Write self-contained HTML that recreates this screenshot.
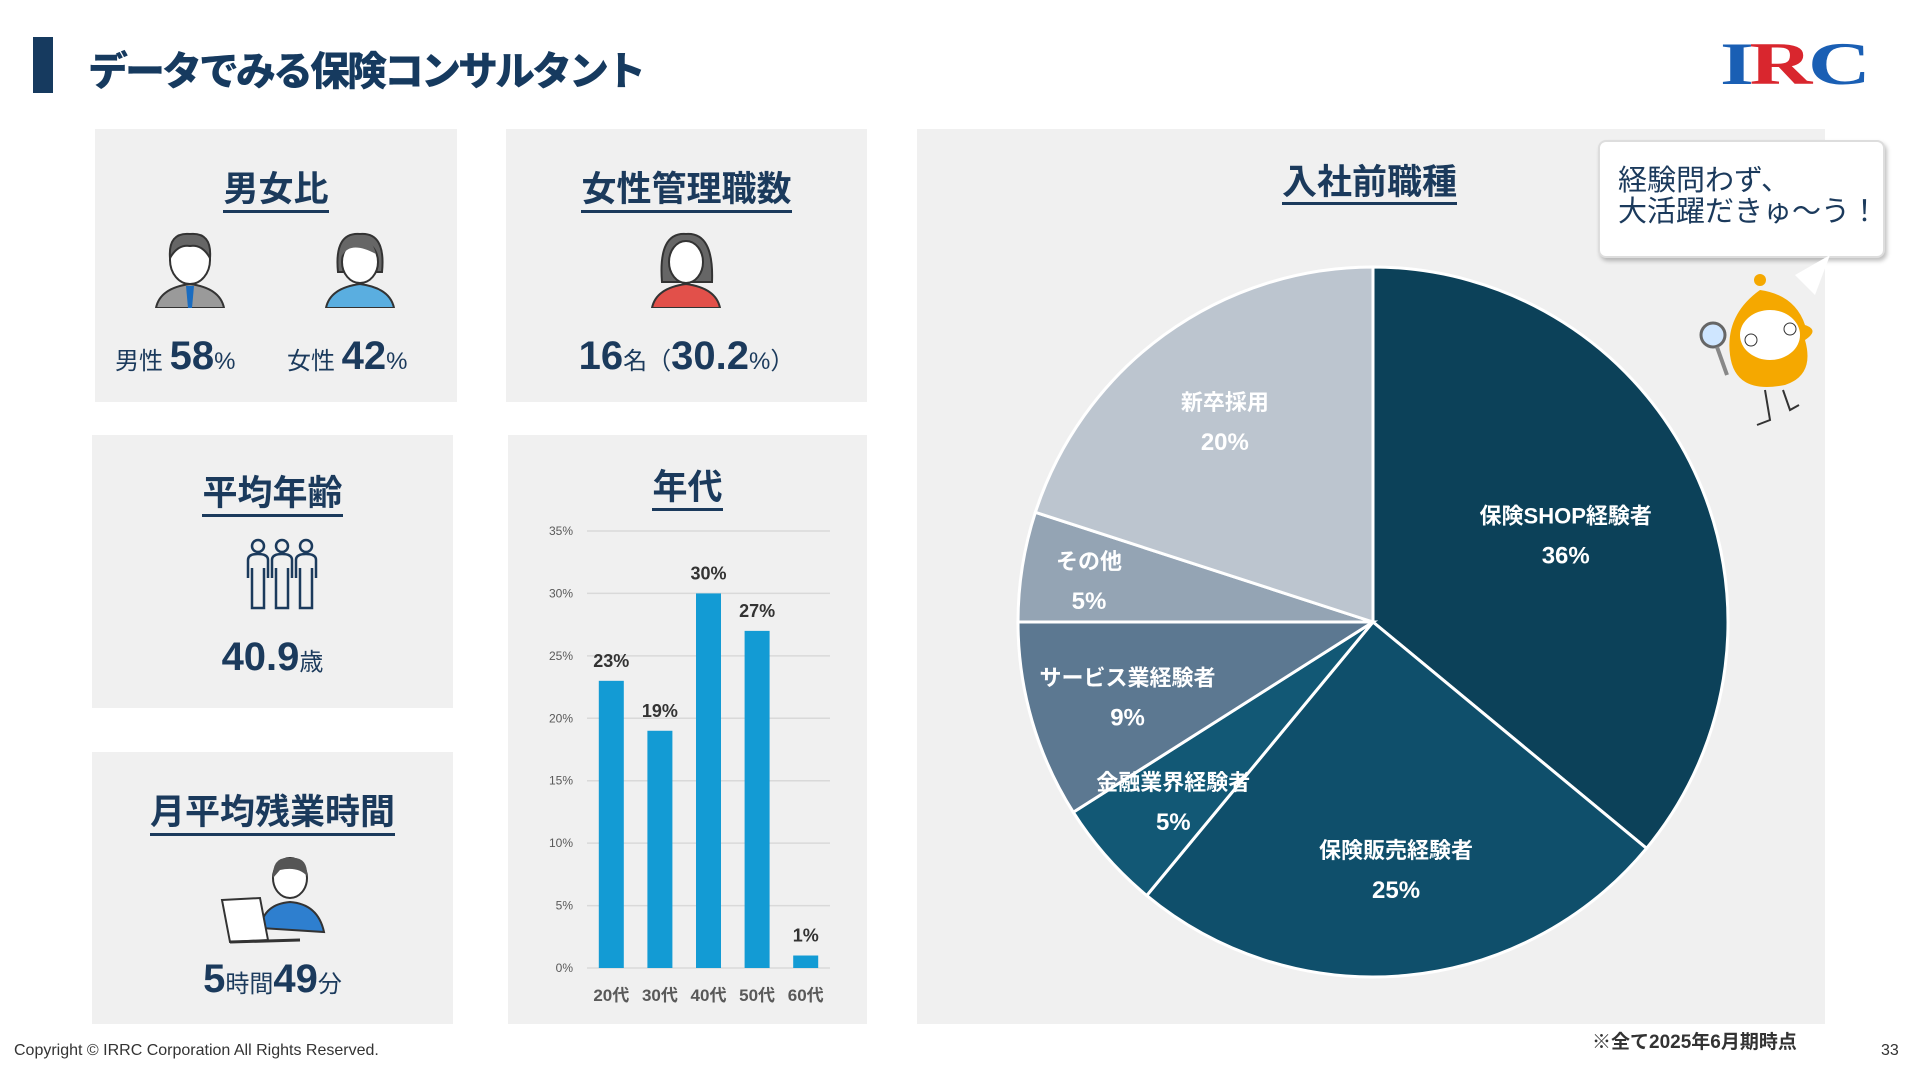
<!DOCTYPE html>
<html><head><meta charset="utf-8">
<style>
*{margin:0;padding:0;box-sizing:border-box}
body{width:1920px;height:1080px;background:#fff;position:relative;overflow:hidden;font-family:"Liberation Sans","Noto Sans CJK JP",sans-serif;color:#1b3a5c}
.abs{position:absolute}
.panel{position:absolute;background:#f0f0f0}
.ptitle{position:absolute;left:0;right:0;text-align:center;font-weight:bold;font-size:35px;color:#1b3a5c}
.ptitle span{border-bottom:3px solid #1b3a5c;padding-bottom:1px}
.big{font-weight:900;font-size:40px;color:#1b3a5c}
.sm{font-size:24px;color:#1b3a5c}
</style></head><body>
<div class="abs" style="left:33px;top:37px;width:20px;height:56px;background:#163a5f"></div>
<div class="abs" style="left:88px;top:39px;font-size:40px;font-weight:900;color:#163a5f;letter-spacing:-3px">データでみる保険コンサルタント</div>
<div class="abs" style="left:1720px;top:30px;font-family:'Liberation Serif',serif;font-weight:bold;font-size:60px;color:#1a5fb4;letter-spacing:-3px;transform:scaleX(1.45);transform-origin:left top">I<span style="color:#d9262e">R</span>C</div>

<div class="panel" style="left:95px;top:129px;width:362px;height:273px">
 <div class="ptitle" style="top:32px"><span>男女比</span></div>
 <svg class="abs" style="left:55px;top:93px" width="80" height="86" viewBox="0 0 80 86"><path d="M6 86 Q10 66 40 62 Q70 66 74 86Z" fill="#9a9a9a" stroke="#333" stroke-width="2"/><path d="M36 64 L44 64 L42 86 L38 86Z" fill="#1a6cc0"/><ellipse cx="40" cy="38" rx="20" ry="24" fill="#fff" stroke="#333" stroke-width="2"/><path d="M20 36 Q18 10 40 12 Q62 10 60 36 Q52 22 40 24 Q28 22 20 36Z" fill="#666" stroke="#333" stroke-width="2"/></svg>
 <svg class="abs" style="left:225px;top:93px" width="80" height="86" viewBox="0 0 80 86"><path d="M6 86 Q10 66 40 62 Q70 66 74 86Z" fill="#5aaee0" stroke="#333" stroke-width="2"/><path d="M18 50 Q14 10 40 12 Q66 10 62 50Z" fill="#666" stroke="#333" stroke-width="2"/><ellipse cx="40" cy="40" rx="18" ry="21" fill="#fff" stroke="#333" stroke-width="2"/><path d="M22 34 Q30 18 56 32 Q52 16 40 16 Q24 16 22 34Z" fill="#666"/></svg>
 <div class="abs" style="left:20px;top:205px;white-space:nowrap"><span class="sm">男性 </span><span class="big">58</span><span class="sm">%</span></div>
 <div class="abs" style="left:192px;top:205px;white-space:nowrap"><span class="sm">女性 </span><span class="big">42</span><span class="sm">%</span></div>
</div>

<div class="panel" style="left:506px;top:129px;width:361px;height:273px">
 <div class="ptitle" style="top:32px"><span>女性管理職数</span></div>
 <svg class="abs" style="left:140px;top:93px" width="80" height="86" viewBox="0 0 80 86"><path d="M16 60 Q12 10 40 12 Q68 10 66 60Z" fill="#666" stroke="#333" stroke-width="2"/><path d="M6 86 Q10 66 40 62 Q70 66 74 86Z" fill="#e2504a" stroke="#333" stroke-width="2"/><ellipse cx="40" cy="40" rx="17" ry="21" fill="#fff" stroke="#333" stroke-width="2"/></svg>
 <div class="abs" style="left:0;right:0;top:205px;text-align:center;white-space:nowrap"><span class="big">16</span><span class="sm">名（</span><span class="big">30.2</span><span class="sm">%）</span></div>
</div>

<div class="panel" style="left:92px;top:435px;width:361px;height:273px">
 <div class="ptitle" style="top:30px"><span>平均年齢</span></div>
 <svg class="abs" style="left:150px;top:103px" width="80" height="72" viewBox="0 0 80 72" fill="none" stroke="#1b3a5c" stroke-width="2.5"><circle cx="16" cy="8" r="6"/><circle cx="40" cy="8" r="6"/><circle cx="64" cy="8" r="6"/><path d="M6 40V22Q6 16 16 16Q26 16 26 22V40M10 30V70H22V30M30 40V22Q30 16 40 16Q50 16 50 22V40M34 30V70H46V30M54 40V22Q54 16 64 16Q74 16 74 22V40M58 30V70H70V30"/></svg>
 <div class="abs" style="left:0;right:0;top:200px;text-align:center"><span class="big">40.9</span><span class="sm">歳</span></div>
</div>

<div class="panel" style="left:92px;top:752px;width:361px;height:272px">
 <div class="ptitle" style="top:32px"><span>月平均残業時間</span></div>
 <svg class="abs" style="left:128px;top:96px" width="110" height="100" viewBox="0 0 110 100"><path d="M40 80 Q44 56 70 54 Q98 56 104 84Z" fill="#2e7fcf" stroke="#333" stroke-width="2"/><ellipse cx="70" cy="30" rx="17" ry="20" fill="#fff" stroke="#333" stroke-width="2"/><path d="M53 30 Q52 8 70 10 Q88 8 87 28 Q78 18 60 22Z" fill="#555"/><path d="M2 52 L40 50 L48 92 L10 94Z" fill="#fff" stroke="#333" stroke-width="2"/><path d="M10 94 L80 92" stroke="#333" stroke-width="3"/></svg>
 <div class="abs" style="left:0;right:0;top:205px;text-align:center"><span class="big">5</span><span class="sm">時間</span><span class="big">49</span><span class="sm">分</span></div>
</div>

<div class="panel" style="left:508px;top:435px;width:359px;height:589px">
 <div class="ptitle" style="top:24px"><span>年代</span></div>
</div>
<svg class="abs" id="bar" style="left:0;top:0" width="1920" height="1080"></svg>

<div class="panel" style="left:917px;top:129px;width:908px;height:895px">
 <div class="abs" style="left:365px;top:25px;font-weight:bold;font-size:35px;color:#1b3a5c"><span style="border-bottom:3px solid #1b3a5c">入社前職種</span></div>
</div>
<svg class="abs" id="pie" style="left:0;top:0" width="1920" height="1080"></svg>

<div class="abs" style="left:1598px;top:140px;width:287px;height:118px;background:#fff;border:2px solid #ddd;border-radius:8px;box-shadow:2px 3px 4px rgba(0,0,0,.25);padding:24px 0 0 18px;font-size:29px;line-height:31px;color:#1b3a5c">経験問わず、<br>大活躍だきゅ〜う！</div>
<svg class="abs" style="left:1695px;top:255px" width="150" height="180" viewBox="0 0 150 180"><path d="M80 40 L95 0 L60 20Z" fill="#fff" transform="translate(40,0)"/><circle cx="65" cy="25" r="6" fill="#f5a800"/><path d="M65 35 Q30 60 35 100 Q40 140 90 130 Q120 120 110 85 Q125 75 110 70 Q100 40 65 35Z" fill="#f5a800"/><ellipse cx="75" cy="80" rx="30" ry="25" fill="#fff"/><circle cx="56" cy="85" r="6" fill="#fff" stroke="#333"/><circle cx="95" cy="74" r="6" fill="#fff" stroke="#333"/><circle cx="18" cy="80" r="12" fill="#cfe6ff" stroke="#666" stroke-width="3"/><path d="M22 92 L32 120" stroke="#888" stroke-width="4"/><path d="M70 135 L75 165 L62 170 M88 135 L95 155 L104 150" stroke="#333" stroke-width="2" fill="none"/></svg>

<div class="abs" style="left:1592px;top:1027px;font-size:19px;font-weight:bold;color:#333">※全て2025年6月期時点</div>
<div class="abs" style="left:14px;top:1042px;font-size:16px;color:#333">Copyright © IRRC Corporation All Rights Reserved.</div>
<div class="abs" style="left:1881px;top:1042px;font-size:16px;color:#333">33</div>

<script>
const NS='http://www.w3.org/2000/svg';
const ageCats=['20代','30代','40代','50代','60代'];
const ageVals=[23,19,30,27,1];
const ageTicks=[0,5,10,15,20,25,30,35];
const jobCats=['保険SHOP経験者','保険販売経験者','金融業界経験者','サービス業経験者','その他','新卒採用'];
const jobVals=[36,25,5,9,5,20];
const jobColors=['#0c4159','#0f4f6b','#125875','#5c7891','#94a4b4','#bcc5cf'];
const labelR=[0.6,0.69,0.75,0.72,0.81,0.71];

function mk(svg,tag,attrs,txt){const e=document.createElementNS(NS,tag);for(const k in attrs)e.setAttribute(k,attrs[k]);if(txt!==undefined)e.textContent=txt;svg.appendChild(e);return e;}
const bar=document.getElementById('bar');
const x0=587,x1=830,yB=968,yT=531,yMax=35;
const ys=v=>yB-(v/yMax)*(yB-yT);
const band=(x1-x0)/ageCats.length;
ageTicks.forEach(t=>{
 const g=mk(bar,'line',{x1:x0,x2:x1,y1:ys(t),y2:ys(t),stroke:'#d9d9d9','stroke-width':1.5});
 
 
 const l=mk(bar,'text',{x:573,y:ys(t)+4,'text-anchor':'end','font-size':12,fill:'#595959','font-family':'Liberation Sans, sans-serif'},t+'%');
 
 
});
ageCats.forEach((c,i)=>{
 const cx=x0+band*(i+0.5),w=25;
 const r=mk(bar,'rect',{x:cx-w/2,y:ys(ageVals[i]),width:w,height:yB-ys(ageVals[i]),fill:'#139bd4'});
 
 
 const v=mk(bar,'text',{x:cx,y:ys(ageVals[i])-14,'text-anchor':'middle','font-size':18,'font-weight':'bold',fill:'#333','font-family':'Liberation Sans, sans-serif'},ageVals[i]+'%');
 
 
 const xl=mk(bar,'text',{x:cx,y:1001,'text-anchor':'middle','font-size':17,'font-weight':'bold',fill:'#595959','font-family':'Liberation Sans, Noto Sans CJK JP, sans-serif'},c);
 
 
});
const pie=document.getElementById('pie');
const cx=1373,cy=622,R=355;
const tot=jobVals.reduce((a,b)=>a+b,0);
let acc=0;
jobVals.forEach((v,i)=>{
 const a0=acc/tot*2*Math.PI,a1=(acc+v)/tot*2*Math.PI;acc+=v;
 const p=a=>[cx+R*Math.sin(a),cy-R*Math.cos(a)];
 const [sx,sy]=p(a0),[ex,ey]=p(a1);
 const s=mk(pie,'path',{d:`M${cx},${cy}L${sx},${sy}A${R},${R} 0 ${a1-a0>Math.PI?1:0} 1 ${ex},${ey}Z`,fill:jobColors[i],stroke:'#fff','stroke-width':3});
 
 
});
acc=0;
jobVals.forEach((v,i)=>{
 const a0=acc/tot*2*Math.PI,a1=(acc+v)/tot*2*Math.PI;acc+=v;
 const am=(a0+a1)/2,lr=R*labelR[i];
 const lx=cx+lr*Math.sin(am),ly=cy-lr*Math.cos(am);
 const t1=mk(pie,'text',{x:lx,y:ly-8,'text-anchor':'middle','font-size':22,'font-weight':'bold',fill:'#fff','font-family':'Liberation Sans, Noto Sans CJK JP, sans-serif'},jobCats[i]);
 
 
 const t2=mk(pie,'text',{x:lx,y:ly+32,'text-anchor':'middle','font-size':24,'font-weight':'bold',fill:'#fff','font-family':'Liberation Sans, sans-serif'},v+'%');
 
 
});
</script>
</body></html>
